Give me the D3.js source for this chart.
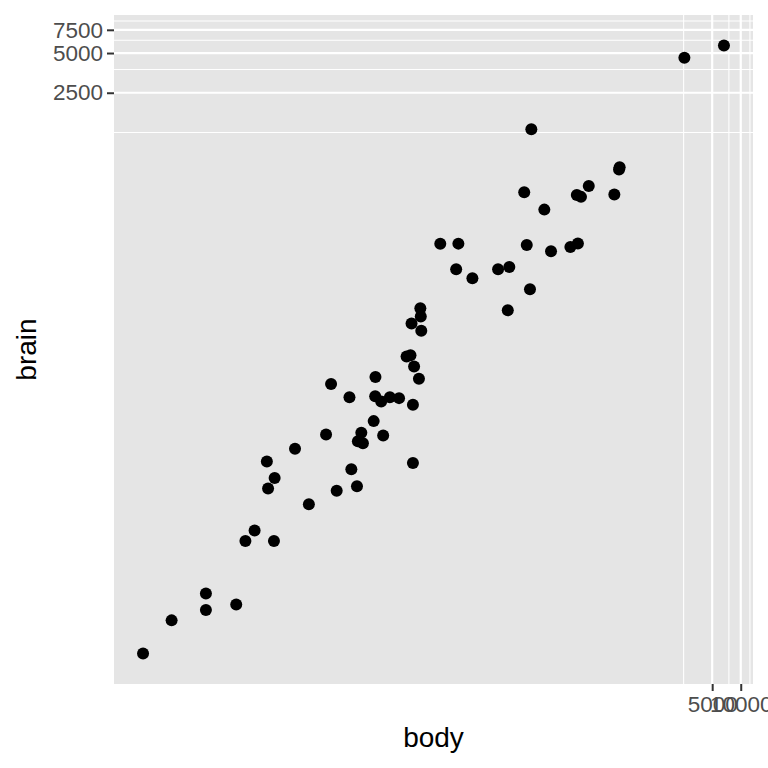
<!DOCTYPE html>
<html><head><meta charset="utf-8">
<script src="https://cdn.jsdelivr.net/npm/d3@7"></script>
<style>body{margin:0;background:#fff}svg{display:block}</style>
</head><body>
<script>
const body = [3.385,0.48,1.35,465,36.33,27.66,14.83,1.04,4.19,0.425,0.101,0.92,1,0.005,0.06,3.5,2,1.7,2547,0.023,187.1,521,0.785,10,3.3,0.2,1.41,529,207,85,0.75,62,6654,3.5,6.8,35,4.05,0.12,0.023,0.01,1.4,250,2.5,55.5,100,52.16,10.55,0.55,60,3.6,4.288,0.28,0.075,0.122,0.048,192,3,160,0.9,1.62,0.104,4.235];
const brain = [44.5,15.5,8.1,423,119.5,115,98.2,5.5,58,6.4,4,5.7,6.6,0.14,1,10.8,12.3,6.3,4603,0.3,419,655,3.5,115,25.6,5,17.5,680,406,325,12.3,1320,5712,3.9,179,56,17,1,0.4,0.25,12.5,490,12.1,175,157,440,179.5,2.4,81,21,39.2,1.9,1.2,3,0.33,180,25,169,2.6,11.4,2.5,50.4];
const xBreaks = [5000, 10000];
const xMinor = [2500, 7500, 12500];
const yBreaks = [2500, 5000, 7500];
const yMinor = [1250, 3750, 6250, 8750];

const W = 768, H = 768;
const panel = {l:114, r:753, t:15, b:684};
function expandLog(ext){
  const a = Math.log(ext[0]), b = Math.log(ext[1]), d = (b-a)*0.05;
  return [Math.exp(a-d), Math.exp(b+d)];
}
const x = d3.scaleLog().domain(expandLog(d3.extent(body))).range([panel.l, panel.r]);
const y = d3.scaleLog().domain(expandLog(d3.extent(brain))).range([panel.b, panel.t]);

const svg = d3.select("body").append("svg").attr("width", W).attr("height", H);
svg.append("rect").attr("x", panel.l).attr("y", panel.t)
  .attr("width", panel.r-panel.l).attr("height", panel.b-panel.t).attr("fill", "#E5E5E5");

const g = svg.append("g");
const inX = v => x(v) >= panel.l && x(v) <= panel.r;
const inY = v => y(v) >= panel.t && y(v) <= panel.b;
g.selectAll(".ymin").data(yMinor.filter(inY)).join("line")
  .attr("x1", panel.l).attr("x2", panel.r).attr("y1", d=>y(d)).attr("y2", d=>y(d))
  .attr("stroke", "#fff").attr("stroke-width", 1.1);
g.selectAll(".xmin").data(xMinor.filter(inX)).join("line")
  .attr("y1", panel.t).attr("y2", panel.b).attr("x1", d=>x(d)).attr("x2", d=>x(d))
  .attr("stroke", "#fff").attr("stroke-width", 1.1);
g.selectAll(".ymaj").data(yBreaks).join("line")
  .attr("x1", panel.l).attr("x2", panel.r).attr("y1", d=>y(d)).attr("y2", d=>y(d))
  .attr("stroke", "#fff").attr("stroke-width", 2.2);
g.selectAll(".xmaj").data(xBreaks).join("line")
  .attr("y1", panel.t).attr("y2", panel.b).attr("x1", d=>x(d)).attr("x2", d=>x(d))
  .attr("stroke", "#fff").attr("stroke-width", 2.2);

svg.append("g").selectAll("circle").data(body.map((b,i)=>[b, brain[i]])).join("circle")
  .attr("cx", d=>x(d[0])).attr("cy", d=>y(d[1])).attr("r", 6).attr("fill", "#000");

const font = "'Liberation Sans', Arial, Helvetica, sans-serif";
const xAxis = d3.axisBottom(x).tickValues(xBreaks).tickFormat(d3.format("d")).tickSizeOuter(0).tickSizeInner(7).tickPadding(5);
const yAxis = d3.axisLeft(y).tickValues(yBreaks).tickFormat(d3.format("d")).tickSizeOuter(0).tickSizeInner(7).tickPadding(4);
const gx = svg.append("g").attr("transform", `translate(0,${panel.b})`).call(xAxis);
const gy = svg.append("g").attr("transform", `translate(${panel.l},0)`).call(yAxis);
[gx, gy].forEach(a => {
  a.select(".domain").remove();
  a.selectAll(".tick line").attr("stroke", "#333").attr("stroke-width", 2);
  a.selectAll(".tick text").attr("fill", "#4D4D4D").style("font-family", font).style("font-size", "22.5px");
});

svg.append("text").attr("x", (panel.l+panel.r)/2).attr("y", 747).attr("text-anchor", "middle")
  .style("font-family", font).style("font-size", "28px").attr("fill", "#000").text("body");
svg.append("text").attr("transform", `translate(36,${(panel.t+panel.b)/2}) rotate(-90)`).attr("text-anchor", "middle")
  .style("font-family", font).style("font-size", "28px").attr("fill", "#000").text("brain");
</script>
</body></html>
